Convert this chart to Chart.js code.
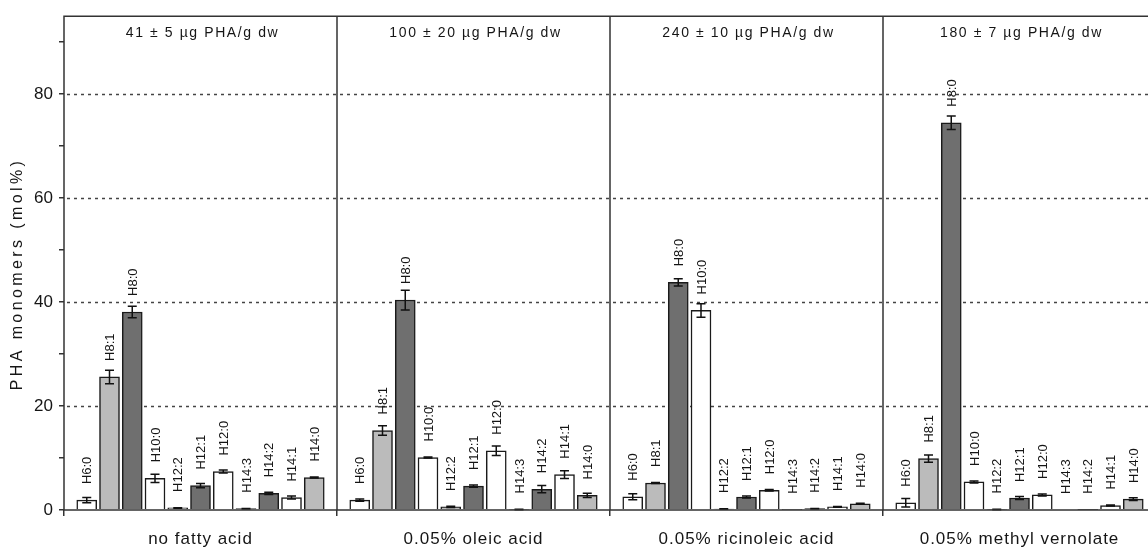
<!DOCTYPE html>
<html>
<head>
<meta charset="utf-8">
<script src="https://cdn.jsdelivr.net/npm/chart.js@4.4.0/dist/chart.umd.min.js"></script>
<style>
  html, body { margin: 0; padding: 0; background: #fff; overflow: hidden; }
  canvas { display: block; }
</style>
</head>
<body>
<canvas id="pha" width="1160" height="549"></canvas>
<script>
// ===== Date =====
const monomers = ["H6:0", "H8:1", "H8:0", "H10:0", "H12:2", "H12:1", "H12:0", "H14:3", "H14:2", "H14:1", "H14:0"];
const conditions = ["no fatty acid", "0.05% oleic acid", "0.05% ricinoleic acid", "0.05% methyl vernolate"];
const yields = ["41 ± 5 µg PHA/g dw", "100 ± 20 µg PHA/g dw", "240 ± 10 µg PHA/g dw", "180 ± 7 µg PHA/g dw"];

const noFatty = [1.9, 25.6, 38.1, 6.1, 0.4, 4.7, 7.4, 0.25, 3.2, 2.4, 6.25];
const noFattyErr = [0.5, 1.3, 1.1, 0.8, 0.05, 0.4, 0.3, 0.05, 0.2, 0.3, 0.1];
const oleic = [1.9, 15.3, 40.4, 10.1, 0.6, 4.6, 11.4, 0.1, 4.0, 6.8, 2.8];
const oleicErr = [0.2, 0.9, 1.9, 0.1, 0.1, 0.2, 0.9, 0.05, 0.7, 0.75, 0.4];
const ricinoleic = [2.55, 5.2, 43.8, 38.4, 0.2, 2.5, 3.8, 0.05, 0.25, 0.6, 1.2];
const ricinoleicErr = [0.6, 0.1, 0.7, 1.3, 0.05, 0.2, 0.15, 0, 0.05, 0.05, 0.1];
const vernolate = [1.4, 9.9, 74.5, 5.4, 0.1, 2.3, 2.9, 0, 0.05, 0.85, 2.1];
const vernolateErr = [0.8, 0.7, 1.3, 0.2, 0.05, 0.3, 0.2, 0, 0, 0.1, 0.25];

const yLabelTicks = [0, 20, 40, 60, 80];

// ===== Stil =====
const fills = ["#ffffff", "#bbbbbb", "#6f6f6f"]; // alb / gri deschis / gri inchis
const ink = "#151515";
const frame = "#333";
const FONT = "'Liberation Sans', Arial, sans-serif";

// ===== Puncte (4 panouri x 11 monomeri) =====
const panels = [noFatty, oleic, ricinoleic, vernolate];
const panelErr = [noFattyErr, oleicErr, ricinoleicErr, vernolateErr];
const SLOTS = monomers.length + 1;
const points = [];
const errs = [];
panels.forEach((vals, p) => {
  vals.forEach((v, i) => {
    points.push({ x: p * SLOTS + 1 + i, y: v });
    errs.push(panelErr[p][i]);
  });
});

// ===== Plugin: grila punctata, bare de eroare, etichete, cadru =====
const decor = {
  id: "decor",
  beforeDatasetsDraw(chart) {
    const { ctx, chartArea: a, scales: { y } } = chart;
    ctx.save();
    ctx.strokeStyle = "#444";
    ctx.lineWidth = 1.4;
    ctx.setLineDash([3, 4]);
    yLabelTicks.filter(v => v > 0).forEach(v => {
      const py = Math.round(y.getPixelForValue(v)) + 0.5;
      ctx.beginPath();
      ctx.moveTo(a.left + 3, py);
      ctx.lineTo(a.right, py);
      ctx.stroke();
    });
    ctx.restore();
  },
  afterDatasetsDraw(chart) {
    const { ctx, chartArea: a, scales: { x, y } } = chart;
    const bars = chart.getDatasetMeta(0).data;
    ctx.save();

    // bare de eroare
    ctx.strokeStyle = "#111";
    ctx.lineWidth = 1.5;
    bars.forEach((el, i) => {
      const e = errs[i];
      if (!e) return;
      const v = points[i].y;
      const top = y.getPixelForValue(v + e);
      const bot = y.getPixelForValue(Math.max(0, v - e));
      ctx.beginPath();
      ctx.moveTo(el.x, top); ctx.lineTo(el.x, bot);
      ctx.moveTo(el.x - 4.5, top); ctx.lineTo(el.x + 4.5, top);
      ctx.moveTo(el.x - 4.5, bot); ctx.lineTo(el.x + 4.5, bot);
      ctx.stroke();
    });

    // etichete monomeri (verticale)
    ctx.fillStyle = ink;
    ctx.font = `13px ${FONT}`;
    ctx.textAlign = "left";
    ctx.textBaseline = "middle";
    bars.forEach((el, i) => {
      ctx.save();
      ctx.translate(el.x + 1, el.y - 16);
      ctx.rotate(-Math.PI / 2);
      ctx.fillText(monomers[i % monomers.length], 0, 0);
      ctx.restore();
    });

    // cadru + separatoare panouri
    ctx.strokeStyle = frame;
    ctx.lineWidth = 1.5;
    ctx.beginPath();
    ctx.rect(a.left, a.top, a.right - a.left, a.bottom - a.top);
    for (let p = 1; p < panels.length; p++) {
      const px = x.getPixelForValue(p * SLOTS);
      ctx.moveTo(px, a.top);
      ctx.lineTo(px, a.bottom);
    }
    ctx.stroke();

    // titluri panouri + categorii
    ctx.textAlign = "center";
    ctx.textBaseline = "alphabetic";
    ctx.fillStyle = ink;
    if ("letterSpacing" in ctx) ctx.letterSpacing = "1.6px";
    ctx.font = `14px ${FONT}`;
    yields.forEach((t, p) => ctx.fillText(t, x.getPixelForValue(p * SLOTS + SLOTS / 2) + 2, 37));
    if ("letterSpacing" in ctx) ctx.letterSpacing = "1px";
    ctx.font = `17px ${FONT}`;
    conditions.forEach((t, p) => ctx.fillText(t, x.getPixelForValue(p * SLOTS + SLOTS / 2), 544));

    // titlu axa Y
    if ("letterSpacing" in ctx) ctx.letterSpacing = "3.4px";
    ctx.font = `16px ${FONT}`;
    ctx.textBaseline = "middle";
    ctx.translate(18, 274);
    ctx.rotate(-Math.PI / 2);
    ctx.fillText("PHA monomers (mol%)", 0, 0);
    ctx.restore();
  }
};

new Chart(document.getElementById("pha"), {
  type: "bar",
  data: {
    datasets: [{
      data: points,
      backgroundColor: c => fills[c.dataIndex % monomers.length % 3],
      borderColor: "#1a1a1a",
      borderWidth: 1.5,
      barThickness: 20
    }]
  },
  options: {
    responsive: false,
    animation: false,
    layout: { padding: { top: 13, right: 4, left: 0, bottom: 0 } },
    plugins: { legend: { display: false }, tooltip: { enabled: false } },
    scales: {
      x: {
        type: "linear",
        offset: false,
        min: 0,
        max: panels.length * SLOTS,
        afterBuildTicks: s => { s.ticks = panels.map((_, p) => ({ value: p * SLOTS })).concat([{ value: panels.length * SLOTS }]); },
        afterFit: s => { s.height = 39; },
        ticks: { display: false },
        grid: { offset: false, drawOnChartArea: false, drawTicks: true, tickLength: 6, tickColor: frame, lineWidth: 1.5 },
        border: { display: false }
      },
      y: {
        min: 0,
        max: 95,
        afterBuildTicks: s => { s.ticks = [0, 10, 20, 30, 40, 50, 60, 70, 80, 90].map(v => ({ value: v })); },
        afterFit: s => { s.width = 64; },
        ticks: {
          padding: 6,
          color: ink,
          font: { family: FONT, size: 17 },
          callback: v => (yLabelTicks.includes(v) ? String(v) : "")
        },
        grid: { drawOnChartArea: false, drawTicks: true, tickLength: 5, tickColor: frame, lineWidth: 1.5 },
        border: { display: false }
      }
    }
  },
  plugins: [decor]
});
</script>
</body>
</html>
